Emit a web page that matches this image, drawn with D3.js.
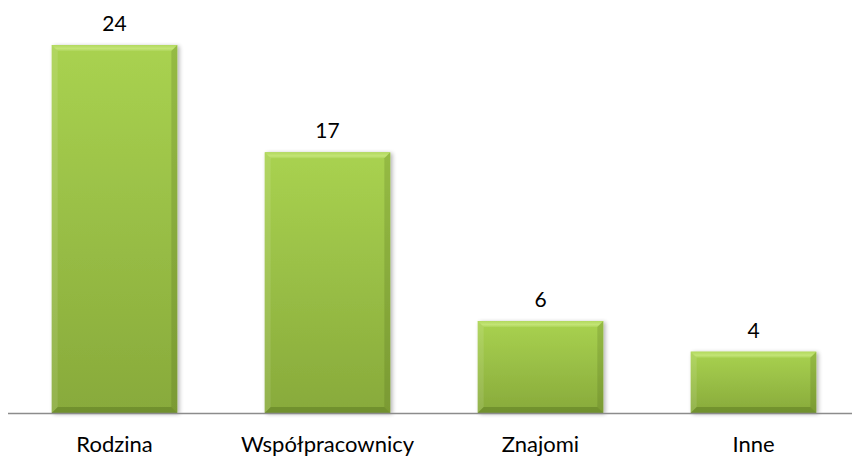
<!DOCTYPE html>
<html>
<head>
<meta charset="utf-8">
<script src="https://cdn.jsdelivr.net/npm/d3@7"></script>
<style>
  body { margin: 0; background: #fff; }
  text { font-family: Lato, "Open Sans", sans-serif; font-weight: 400; fill: #000; }
</style>
</head>
<body>
<div id="chart"></div>
<script>
var categories = ["Rodzina", "Współpracownicy", "Znajomi", "Inne"];
var values = [24, 17, 6, 4];

var width = 852, height = 458;
var baseY = 413;

var svg = d3.select("#chart")
	.append("svg")
	.attr("width", width)
	.attr("height", height);

var defs = svg.append("defs");

// main face, light on top to darker olive at the bottom
var face = defs.append("linearGradient")
	.attr("id", "face")
	.attr("x1", 0).attr("y1", 0).attr("x2", 0).attr("y2", 1);
face.append("stop").attr("offset", "0%").attr("stop-color", "#a9d250");
face.append("stop").attr("offset", "100%").attr("stop-color", "#88aa3b");

var topBev = defs.append("linearGradient")
	.attr("id", "topbev")
	.attr("x1", 0).attr("y1", 0).attr("x2", 0).attr("y2", 1);
topBev.append("stop").attr("offset", "0%").attr("stop-color", "#b2d95e");
topBev.append("stop").attr("offset", "60%").attr("stop-color", "#c3e476");
topBev.append("stop").attr("offset", "100%").attr("stop-color", "#aed55a");

var shadow = defs.append("filter").attr("id", "shadow")
	.attr("x", "-10%").attr("y", "-10%").attr("width", "120%").attr("height", "120%");
shadow.append("feGaussianBlur").attr("in", "SourceAlpha").attr("stdDeviation", 2);
shadow.append("feOffset").attr("dx", 2).attr("dy", 1).attr("result", "b");
shadow.append("feComponentTransfer").append("feFuncA").attr("type", "linear").attr("slope", 0.3);
var mrg = shadow.append("feMerge");
mrg.append("feMergeNode");
mrg.append("feMergeNode").attr("in", "SourceGraphic");

var x = d3.scaleBand()
	.domain(categories)
	.range([8, 860])
	.paddingInner(0.41)
	.paddingOuter(0.205);

var y = d3.scaleLinear()
	.domain([0, 24])
	.range([baseY, 45]);

var data = categories.map(function(c, i) { return {cat: c, val: values[i]}; });

var bev = 6;
var bars = svg.selectAll("g.bar")
	.data(data)
	.enter()
	.append("g")
	.attr("class", "bar")
	.attr("filter", "url(#shadow)");

function pts(a) {
	return a.map(function(p) { return p.join(","); }).join(" ");
}

bars.each(function(d) {
	var g = d3.select(this);
	var x0 = x(d.cat), x1 = x0 + x.bandwidth();
	var y0 = y(d.val), y1 = baseY;
	g.append("rect")
		.attr("x", x0).attr("y", y0)
		.attr("width", x1 - x0).attr("height", y1 - y0)
		.attr("fill", "url(#face)");
	// top bevel
	g.append("polygon")
		.attr("points", pts([[x0, y0], [x1, y0], [x1 - bev, y0 + bev], [x0 + bev, y0 + bev]]))
		.attr("fill", "url(#topbev)");
	// left bevel
	g.append("polygon")
		.attr("points", pts([[x0, y0], [x0 + bev, y0 + bev], [x0 + bev, y1 - bev], [x0, y1]]))
		.attr("fill", "#ffffff").attr("opacity", 0.1);
	// right bevel
	g.append("polygon")
		.attr("points", pts([[x1, y0], [x1 - bev, y0 + bev], [x1 - bev, y1 - bev], [x1, y1]]))
		.attr("fill", "#3d5510").attr("opacity", 0.18);
	// bottom bevel
	g.append("polygon")
		.attr("points", pts([[x0, y1], [x0 + bev, y1 - bev], [x1 - bev, y1 - bev], [x1, y1]]))
		.attr("fill", "#3d5510").attr("opacity", 0.3);
});

// axis line
svg.append("line")
	.attr("x1", 8).attr("x2", width)
	.attr("y1", baseY + 0.5).attr("y2", baseY + 0.5)
	.attr("stroke", "#8c8c8c")
	.attr("stroke-width", 1.5);

// value labels
svg.selectAll("text.val")
	.data(data)
	.enter()
	.append("text")
	.attr("class", "val")
	.attr("x", function(d) { return x(d.cat) + x.bandwidth() / 2; })
	.attr("y", function(d) { return y(d.val) - 14; })
	.attr("text-anchor", "middle")
	.style("font-size", "21px")
	.text(function(d) { return d.val; });

// category labels
svg.selectAll("text.cat")
	.data(data)
	.enter()
	.append("text")
	.attr("class", "cat")
	.attr("x", function(d) { return x(d.cat) + x.bandwidth() / 2; })
	.attr("y", 452)
	.attr("text-anchor", "middle")
	.style("font-size", "22px")
	.text(function(d) { return d.cat; });
</script>
</body>
</html>
